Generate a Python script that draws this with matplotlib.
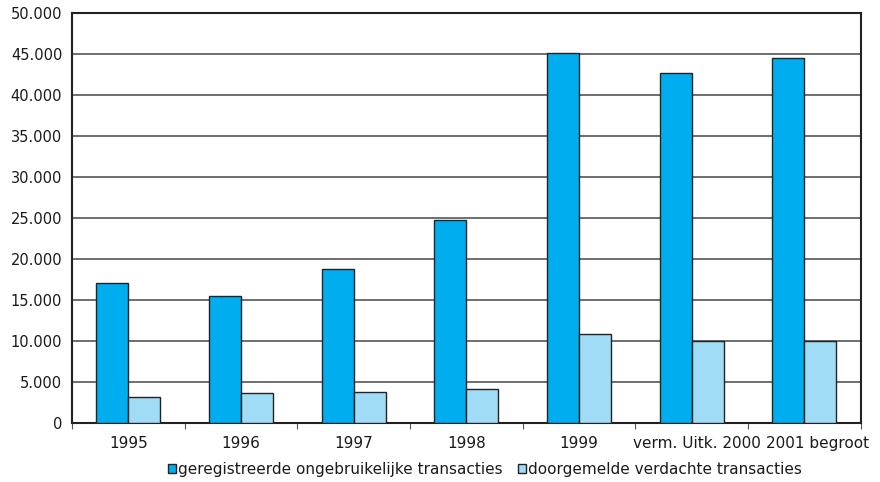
import numpy as np
import matplotlib.pyplot as plt
import matplotlib.transforms as mtransforms
from matplotlib.ticker import FuncFormatter

plt.rcParams['font.family'] = ['DejaVu Sans']

# categories and values
categories = ['1995', '1996', '1997', '1998', '1999', 'verm. Uitk. 2000', '2001 begroot']
ongebruikelijk = [17100, 15500, 18800, 24700, 45100, 42700, 44500]
verdacht = [3200, 3600, 3800, 4100, 10800, 10000, 10000]
series_names = ['geregistreerde ongebruikelijke transacties', 'doorgemelde verdachte transacties']

dark_blue = '#00AEEF'
light_blue = '#A0DCF6'

fig = plt.figure(figsize=(8.8, 4.82), dpi=100)
ax = fig.add_axes([0.0818, 0.1224, 0.8962, 0.8506])

x = np.arange(len(categories))
w = 0.284
ax.bar(x - w / 2, ongebruikelijk, w, color=dark_blue, edgecolor='#222222', linewidth=1, label=series_names[0], zorder=3)
ax.bar(x + w / 2, verdacht, w, color=light_blue, edgecolor='#222222', linewidth=1, label=series_names[1], zorder=3)

ax.set_xlim(-0.5, len(categories) - 0.5)
ax.set_ylim(0, 50000)
ax.set_yticks(np.arange(0, 50001, 5000))
ax.yaxis.set_major_formatter(FuncFormatter(lambda v, p: f'{int(v):,}'.replace(',', '.')))
ax.yaxis.grid(True, color='#555555', linewidth=1.2, zorder=0)

# ticks on category boundaries, labels at centres
ax.set_xticks(np.arange(-0.5, len(categories)), minor=False)
ax.set_xticklabels([])
ax.set_xticks(x, minor=True)
ax.set_xticklabels(categories, minor=True)
ax.tick_params(axis='x', which='major', direction='out', length=4, color='#555555')
ax.tick_params(axis='x', which='minor', length=0, pad=9, labelsize=11, labelcolor='#1a1a1a')
ax.tick_params(axis='y', length=0, pad=7, labelsize=10.5, labelcolor='#1a1a1a')

# the last two labels are nudged right so they do not collide
nudge = [0, 0, 0, 0, 0, 5, 13]
for lab, dx in zip(ax.get_xticklabels(minor=True), nudge):
    lab.set_transform(lab.get_transform() + mtransforms.ScaledTranslation(dx / 100, 0, fig.dpi_scale_trans))

for s in ax.spines.values():
    s.set_color('#222222')
    s.set_linewidth(1.5)

leg = ax.legend(loc='upper center', bbox_to_anchor=(0.524, -0.08), ncol=2, frameon=False,
                fontsize=11, handlelength=0.5, handleheight=0.5, handletextpad=0.15,
                columnspacing=1.0, borderaxespad=0)
for t in leg.get_texts():
    t.set_color('#1a1a1a')

fig.savefig('out.png', dpi=100)
